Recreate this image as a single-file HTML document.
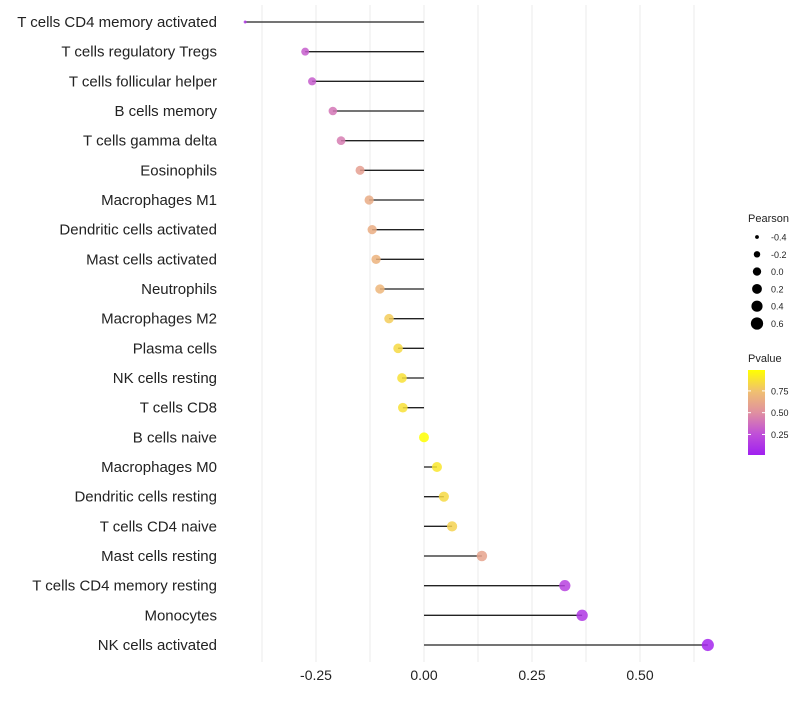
<!DOCTYPE html>
<html><head><meta charset="utf-8"><style>
body{margin:0;background:#fff;}
svg text{font-family:"Liberation Sans",sans-serif;}
</style></head><body>
<svg id="chart" width="800" height="700"></svg>
<script>
const categories=["T cells CD4 memory activated","T cells regulatory  Tregs","T cells follicular helper","B cells memory","T cells gamma delta","Eosinophils","Macrophages M1","Dendritic cells activated","Mast cells activated","Neutrophils","Macrophages M2","Plasma cells","NK cells resting","T cells CD8","B cells naive","Macrophages M0","Dendritic cells resting","T cells CD4 naive","Mast cells resting","T cells CD4 memory resting","Monocytes","NK cells activated"];
const pearson=[-0.414,-0.275,-0.259,-0.211,-0.192,-0.148,-0.127,-0.120,-0.111,-0.102,-0.081,-0.060,-0.051,-0.049,0.0,0.030,0.046,0.065,0.134,0.326,0.366,0.657];
const pvalue=[0.12,0.3,0.3,0.4,0.42,0.58,0.64,0.65,0.68,0.7,0.8,0.85,0.88,0.88,1.0,0.9,0.85,0.82,0.6,0.18,0.12,0.03];
const xTicks=[-0.25,0,0.25,0.5];
const xTickLabels=["-0.25","0.00","0.25","0.50"];
const sizeLegend=[-0.4,-0.2,0.0,0.2,0.4,0.6];
const sizeLegendLabels=["-0.4","-0.2","0.0","0.2","0.4","0.6"];
const pTicks=[0.25,0.5,0.75];
const pTickLabels=["0.25","0.50","0.75"];

const NS="http://www.w3.org/2000/svg";
const svg=document.getElementById('chart');
function el(t,a,p){const e=document.createElementNS(NS,t);for(const k in a)e.setAttribute(k,a[k]);(p||svg).appendChild(e);return e;}
const x=v=>424+v*432;
const y=i=>22+i*(623/21);
const r=v=>1.5+4.5*Math.pow(Math.max(0,v+0.414),0.3);
const rl=v=>Math.sqrt(Math.max(1,19.2+38*v));
const stops=[[0,[160,32,240]],[0.25,[192,80,216]],[0.5,[224,144,160]],[0.75,[240,192,112]],[1,[255,255,0]]];
function col(p){for(let i=1;i<stops.length;i++){if(p<=stops[i][0]){const a=stops[i-1],b=stops[i];const t=(p-a[0])/(b[0]-a[0]);return 'rgb('+a[1].map((c,j)=>Math.round(c+(b[1][j]-c)*t)).join(',')+')';}}return 'rgb(255,255,0)';}
for(let g=-0.375;g<=0.625;g+=0.125){const l=el('line',{x1:x(g),x2:x(g),y1:5,y2:662,stroke:'#ebebeb','stroke-width':1});

}
xTicks.forEach((t,i)=>{const tx=el('text',{x:x(t),y:680,'font-size':14,'text-anchor':'middle',fill:'#222'});tx.textContent=xTickLabels[i];

});
categories.forEach((c,i)=>{
 const lb=el('text',{x:217,y:y(i)+5,'font-size':15,'text-anchor':'end',fill:'#222'});lb.textContent=c;
 
 
 const st=el('line',{x1:x(0),x2:x(pearson[i]),y1:y(i),y2:y(i),stroke:'#222','stroke-width':1.3});
 
 
 const pt=el('circle',{cx:x(pearson[i]),cy:y(i),r:r(pearson[i]),fill:col(pvalue[i]),'fill-opacity':0.85});
 
 
});
const t1=el('text',{x:748,y:222,'font-size':11,fill:'#222'});t1.textContent='Pearson';


sizeLegend.forEach((v,i)=>{const cy=237+i*17.3;
 const c=el('circle',{cx:757,cy:cy,r:rl(v)*0.95,fill:'#000'});
 
 
 const t=el('text',{x:771,y:cy+3.5,'font-size':9,fill:'#222'});t.textContent=sizeLegendLabels[i];
 
 });
const t2=el('text',{x:748,y:362,'font-size':11,fill:'#222'});t2.textContent='Pvalue';


const defs=el('defs',{});const lg=el('linearGradient',{id:'pg',x1:0,y1:1,x2:0,y2:0},defs);
stops.forEach(s=>el('stop',{offset:s[0],'stop-color':'rgb('+s[1].join(',')+')'},lg));
const bar=el('rect',{x:748,y:370,width:17,height:85,fill:'url(#pg)'});


const py=p=>455-(p-0.014)/(0.99-0.014)*85;
pTicks.forEach((p,i)=>{el('line',{x1:748,x2:751,y1:py(p),y2:py(p),stroke:'#fff'});el('line',{x1:762,x2:765,y1:py(p),y2:py(p),stroke:'#fff'});
 const t=el('text',{x:771,y:py(p)+3.5,'font-size':9,fill:'#222'});t.textContent=pTickLabels[i];
 
 });
</script>
</body></html>
